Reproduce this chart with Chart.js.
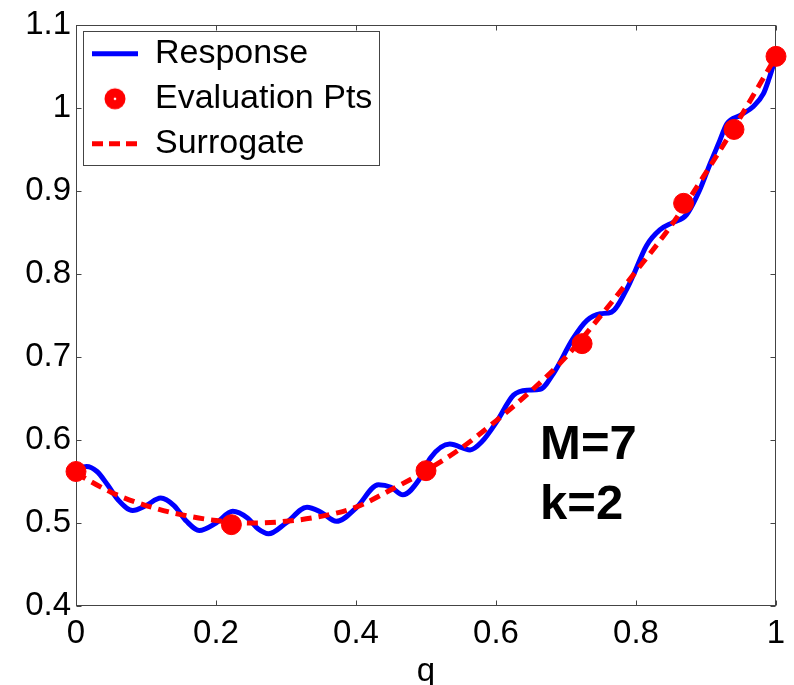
<!DOCTYPE html>
<html>
<head>
<meta charset="utf-8">
<style>
  html, body { margin: 0; padding: 0; background: #fff; }
  #wrap { width: 794px; height: 685px; }
</style>
<script src="https://cdn.jsdelivr.net/npm/chart.js@4/dist/chart.umd.min.js"></script>
</head>
<body>
<div id="wrap"><canvas id="myChart" width="794" height="685"></canvas></div>
<script>
// response curve
const respX = [0.000, 0.015, 0.030, 0.045, 0.060, 0.081, 0.100, 0.121, 0.140, 0.158,
  0.176, 0.200, 0.224, 0.245, 0.260, 0.275, 0.300, 0.330, 0.350, 0.372,
  0.400, 0.432, 0.450, 0.467, 0.490, 0.506, 0.534, 0.563, 0.580, 0.601,
  0.625, 0.645, 0.663, 0.682, 0.710, 0.730, 0.749, 0.765, 0.787, 0.796,
  0.815, 0.834, 0.853, 0.872, 0.891, 0.906, 0.918, 0.930, 0.949, 0.968,
  0.982, 0.990, 1.000];
const respY = [0.565, 0.568, 0.562, 0.546, 0.528, 0.515, 0.521, 0.530, 0.521, 0.502,
  0.491, 0.500, 0.514, 0.506, 0.493, 0.487, 0.500, 0.519, 0.513, 0.502,
  0.518, 0.546, 0.543, 0.534, 0.552, 0.578, 0.595, 0.588, 0.598, 0.622,
  0.654, 0.660, 0.661, 0.680, 0.722, 0.744, 0.752, 0.754, 0.782, 0.798,
  0.834, 0.853, 0.862, 0.871, 0.901, 0.933, 0.957, 0.981, 0.991, 1.002,
  1.017, 1.035, 1.062];

// surrogate (dashed)
const surrX = [0, 0.05, 0.1, 0.15, 0.2, 0.25, 0.3, 0.35, 0.4, 0.45, 0.5,
  0.55, 0.6, 0.65, 0.7, 0.75, 0.8, 0.85, 0.9, 0.95, 1];
const surrY = [0.560, 0.537, 0.521, 0.510, 0.503, 0.500, 0.502, 0.508, 0.519, 0.540, 0.563,
  0.590, 0.623, 0.659, 0.700, 0.750, 0.803, 0.858, 0.922, 0.990, 1.062];

// evaluation points
const ptsX = [0, 0.222, 0.5, 0.723, 0.868, 0.94, 1];
const ptsY = [0.562, 0.498, 0.563, 0.716, 0.885, 0.974, 1.062];

const seriesNames = ["Response", "Evaluation Pts", "Surrogate"];
const noteLines = ["M=7", "k=2"];

const BLUE = "#0000ff";
const RED = "#ff0000";
const FONT = "'Liberation Sans', Arial, Helvetica, sans-serif";

Chart.defaults.font.family = FONT;
Chart.defaults.color = "#000";

const toPoints = (xs, ys) => xs.map((x, i) => ({ x: x, y: ys[i] }));

// red dot used as the legend marker
const dotIcon = document.createElement("canvas");
dotIcon.width = 24;
dotIcon.height = 24;
(() => {
  const c = dotIcon.getContext("2d");
  c.beginPath();
  c.arc(12, 12, 10.5, 0, Math.PI * 2);
  c.fillStyle = RED;
  c.fill();
  c.beginPath();
  c.arc(12, 12, 1.3, 0, Math.PI * 2);
  c.fillStyle = "#fff";
  c.fill();
})();

// frame with inward ticks on all four sides
const framePlugin = {
  id: "frame",
  beforeDatasetsDraw(chart) {
    const { ctx, chartArea: a, scales } = chart;
    const L = Math.round(a.left) + 0.5, R = Math.round(a.right) - 0.5;
    const T = Math.round(a.top) + 0.5, B = Math.round(a.bottom) - 0.5;
    ctx.save();
    ctx.strokeStyle = "#444";
    ctx.lineWidth = 1;
    ctx.strokeRect(L, T, R - L, B - T);
    ctx.beginPath();
    scales.x.ticks.forEach((t) => {
      const px = Math.round(scales.x.getPixelForValue(t.value)) + 0.5;
      ctx.moveTo(px, B); ctx.lineTo(px, B - 5);
      ctx.moveTo(px, T); ctx.lineTo(px, T + 5);
    });
    scales.y.ticks.forEach((t) => {
      const py = Math.round(scales.y.getPixelForValue(t.value)) + 0.5;
      ctx.moveTo(L, py); ctx.lineTo(L + 5, py);
      ctx.moveTo(R, py); ctx.lineTo(R - 5, py);
    });
    ctx.stroke();
    ctx.restore();
  },
  afterLayout(chart) {
    // legend gets top=0 from the layout; put it inside the plot frame
    chart.legend.left = chart.chartArea.left + 5;
    chart.legend.top = chart.chartArea.top + 1;
  },
  afterDraw(chart) {
    const { ctx, scales } = chart;
    const boxes = chart.legend.legendHitBoxes;
    if (boxes && boxes.length) {
      let l = Infinity, t = Infinity, r = -Infinity, b = -Infinity;
      boxes.forEach((h) => {
        l = Math.min(l, h.left);
        t = Math.min(t, h.top);
        r = Math.max(r, h.left + h.width);
        b = Math.max(b, h.top + h.height);
      });
      ctx.save();
      ctx.strokeStyle = "#444";
      ctx.lineWidth = 1;
      ctx.strokeRect(Math.round(l - 9) + 0.5, Math.round(t - 6) + 0.5,
        Math.round(r - l + 16), Math.round(b - t + 10));
      ctx.restore();
    }
    // M / k annotation
    ctx.save();
    ctx.font = "bold 49px " + FONT;
    ctx.fillStyle = "#000";
    ctx.textBaseline = "alphabetic";
    ctx.textAlign = "left";
    const tx = scales.x.getPixelForValue(0.663);
    ctx.fillText(noteLines[0], tx, scales.y.getPixelForValue(0.577));
    ctx.fillText(noteLines[1], tx, scales.y.getPixelForValue(0.505));
    ctx.restore();
  },
};

const ctx = document.getElementById("myChart");
let myChart = new Chart(ctx, {
  type: "line",
  data: {
    datasets: [
      {
        label: seriesNames[0],
        data: toPoints(respX, respY),
        borderColor: BLUE,
        borderWidth: 5,
        pointRadius: 0,
        cubicInterpolationMode: "monotone",
        fill: false,
        order: 3,
      },
      {
        label: seriesNames[1],
        data: toPoints(ptsX, ptsY),
        showLine: false,
        pointRadius: 10,
        pointBorderWidth: 1,
        pointBackgroundColor: RED,
        pointBorderColor: RED,
        borderColor: RED,
        clip: false,
        order: 2,
      },
      {
        label: seriesNames[2],
        data: toPoints(surrX, surrY),
        borderColor: RED,
        borderWidth: 5,
        borderDash: [11, 7],
        pointRadius: 0,
        cubicInterpolationMode: "monotone",
        fill: false,
        order: 1,
      },
    ],
  },
  options: {
    responsive: false,
    animation: false,
    layout: { padding: { left: 0, right: 18, top: 21, bottom: 0 } },
    plugins: {
      tooltip: { enabled: false },
      legend: {
        position: "chartArea",
        align: "start",
        labels: {
          usePointStyle: true,
          pointStyleWidth: 46,
          boxHeight: 13,
          padding: 11,
          color: "#000",
          font: { size: 34 },
          generateLabels: (chart) =>
            chart.data.datasets.map((ds, i) => ({
              text: ds.label,
              datasetIndex: i,
              fontColor: "#000",
              fillStyle: i === 1 ? RED : "rgba(0,0,0,0)",
              strokeStyle: i === 0 ? BLUE : RED,
              lineWidth: i === 1 ? 0 : 5,
              lineDash: i === 2 ? [11, 6] : [],
              pointStyle: i === 1 ? dotIcon : "line",
              hidden: false,
            })),
        },
      },
    },
    scales: {
      x: {
        type: "linear",
        min: 0,
        max: 1,
        ticks: {
          stepSize: 0.2,
          padding: 8,
          font: { size: 33 },
          color: "#000",
          callback: (v) => String(+v.toFixed(1)),
        },
        grid: { display: false, drawTicks: false },
        border: { display: false },
        title: { display: true, text: "q", font: { size: 33 }, color: "#000", padding: { top: 0, bottom: -7 } },
        afterFit: (scale) => { scale.height = 79; },
      },
      y: {
        type: "linear",
        min: 0.4,
        max: 1.1,
        ticks: {
          stepSize: 0.1,
          padding: 5,
          font: { size: 33 },
          color: "#000",
          callback: (v) => String(+v.toFixed(1)),
        },
        grid: { display: false, drawTicks: false },
        border: { display: false },
        afterFit: (scale) => { scale.width = 76; },
      },
    },
  },
  plugins: [framePlugin],
});
</script>
</body>
</html>
